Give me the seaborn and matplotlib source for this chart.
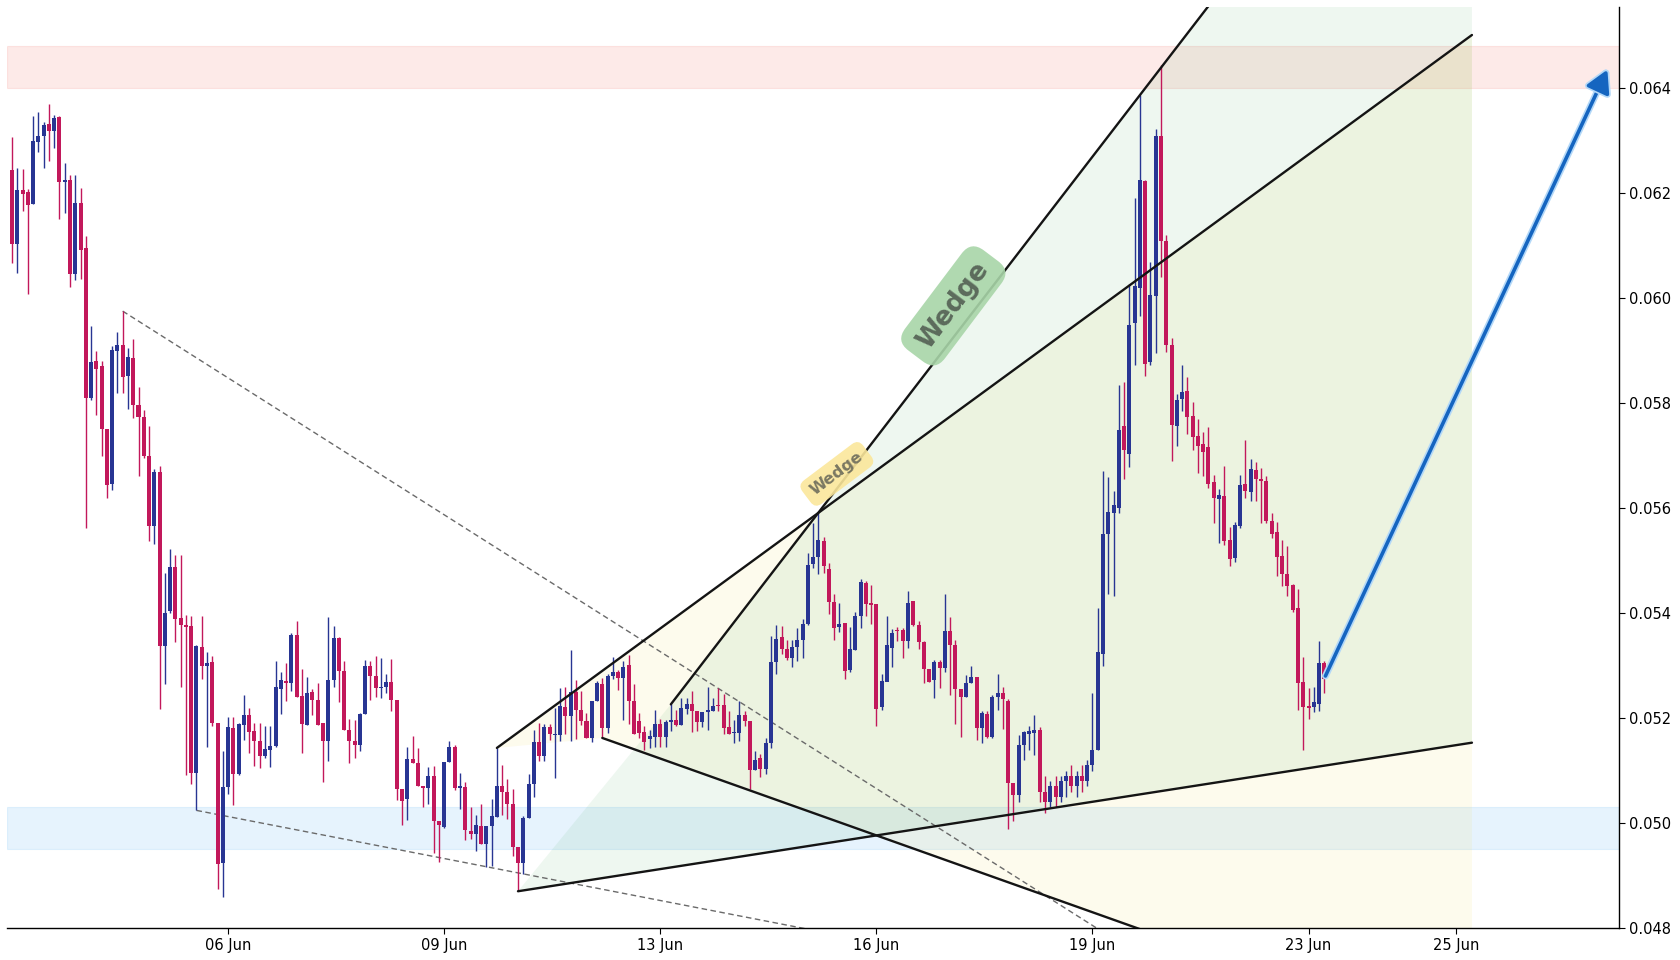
import matplotlib
matplotlib.use("Agg")
import matplotlib.pyplot as plt
import matplotlib.patheffects as pe
import numpy as np
import pandas as pd
import seaborn as sns

# ---------------- data (candles on an index-based x axis) ----------------
opens = [0.06243, 0.06103, 0.06205, 0.06201, 0.06180, 0.06297, 0.06309, 0.06331, 0.06318, 0.06344,
         0.06221, 0.06224, 0.06046, 0.06181, 0.06095, 0.05810, 0.05880, 0.05870, 0.05750, 0.05646,
         0.05899, 0.05910, 0.05852, 0.05885, 0.05797, 0.05773, 0.05700, 0.05566, 0.05668, 0.05337,
         0.05404, 0.05487, 0.05390, 0.05378, 0.05376, 0.05095, 0.05335, 0.05300, 0.05306, 0.05190,
         0.04924, 0.05069, 0.05181, 0.05094, 0.05187, 0.05205, 0.05175, 0.05157, 0.05128, 0.05139,
         0.05146, 0.05256, 0.05270, 0.05267, 0.05359, 0.05241, 0.05187, 0.05249, 0.05235, 0.05190,
         0.05156, 0.05272, 0.05352, 0.05289, 0.05178, 0.05156, 0.05148, 0.05207, 0.05300, 0.05280,
         0.05257, 0.05260, 0.05268, 0.05235, 0.05065, 0.05046, 0.05121, 0.05115, 0.05071, 0.05067,
         0.05090, 0.05004, 0.04992, 0.05116, 0.05144, 0.05067, 0.05068, 0.04984, 0.04979, 0.04994,
         0.04960, 0.04994, 0.05012, 0.05070, 0.05059, 0.05037, 0.04954, 0.04924, 0.05009, 0.05075,
         0.05155, 0.05127, 0.05183, 0.05167, 0.05167, 0.05221, 0.05204, 0.05250, 0.05215, 0.05195,
         0.05162, 0.05232, 0.05264, 0.05181, 0.05280, 0.05287, 0.05276, 0.05301, 0.05232, 0.05195,
         0.05174, 0.05160, 0.05164, 0.05188, 0.05164, 0.05193, 0.05196, 0.05186, 0.05218, 0.05226,
         0.05213, 0.05192, 0.05211, 0.05214, 0.05224, 0.05224, 0.05182, 0.05171, 0.05171, 0.05206,
         0.05195, 0.05101, 0.05123, 0.05102, 0.05152, 0.05306, 0.05354, 0.05332, 0.05314, 0.05336,
         0.05348, 0.05380, 0.05493, 0.05506, 0.05537, 0.05484, 0.05421, 0.05373, 0.05381, 0.05292,
         0.05330, 0.05395, 0.05458, 0.05419, 0.05418, 0.05221, 0.05269, 0.05334, 0.05367, 0.05367,
         0.05346, 0.05422, 0.05378, 0.05345, 0.05293, 0.05273, 0.05307, 0.05295, 0.05365, 0.05339,
         0.05256, 0.05240, 0.05267, 0.05278, 0.05181, 0.05208, 0.05164, 0.05240, 0.05247, 0.05232,
         0.05076, 0.05054, 0.05148, 0.05170, 0.05171, 0.05178, 0.05060, 0.05040, 0.05070, 0.05050,
         0.05080, 0.05090, 0.05070, 0.05090, 0.05080, 0.05110, 0.05140, 0.05322, 0.05550, 0.05590,
         0.05600, 0.05756, 0.05702, 0.05953, 0.06019, 0.06222, 0.05878, 0.06003, 0.06309, 0.06108,
         0.05911, 0.05757, 0.05808, 0.05822, 0.05775, 0.05737, 0.05721, 0.05716, 0.05649, 0.05617,
         0.05622, 0.05540, 0.05504, 0.05565, 0.05646, 0.05631, 0.05673, 0.05656, 0.05652, 0.05575,
         0.05554, 0.05508, 0.05475, 0.05453, 0.05409, 0.05268, 0.05222, 0.05221, 0.05227, 0.05304]
highs = [0.06306, 0.06247, 0.06245, 0.06208, 0.06346, 0.06354, 0.06335, 0.06369, 0.06348, 0.06346,
         0.06257, 0.06234, 0.06234, 0.06209, 0.06118, 0.05946, 0.05899, 0.05880, 0.05750, 0.05908,
         0.05935, 0.05975, 0.05904, 0.05922, 0.05830, 0.05786, 0.05756, 0.05674, 0.05680, 0.05476,
         0.05521, 0.05510, 0.05510, 0.05397, 0.05395, 0.05339, 0.05394, 0.05325, 0.05319, 0.05190,
         0.05138, 0.05202, 0.05202, 0.05190, 0.05244, 0.05219, 0.05190, 0.05190, 0.05184, 0.05184,
         0.05308, 0.05288, 0.05304, 0.05362, 0.05384, 0.05293, 0.05278, 0.05255, 0.05266, 0.05190,
         0.05392, 0.05375, 0.05355, 0.05309, 0.05198, 0.05196, 0.05210, 0.05311, 0.05308, 0.05319,
         0.05314, 0.05283, 0.05313, 0.05235, 0.05065, 0.05144, 0.05165, 0.05142, 0.05071, 0.05106,
         0.05108, 0.05004, 0.05117, 0.05156, 0.05149, 0.05095, 0.05079, 0.05030, 0.05016, 0.05036,
         0.04994, 0.05045, 0.05143, 0.05111, 0.05083, 0.05064, 0.04954, 0.05013, 0.05093, 0.05178,
         0.05191, 0.05188, 0.05188, 0.05220, 0.05257, 0.05260, 0.05330, 0.05273, 0.05252, 0.05210,
         0.05232, 0.05270, 0.05276, 0.05283, 0.05316, 0.05292, 0.05308, 0.05320, 0.05264, 0.05210,
         0.05184, 0.05178, 0.05216, 0.05198, 0.05197, 0.05226, 0.05215, 0.05239, 0.05239, 0.05251,
         0.05213, 0.05211, 0.05260, 0.05239, 0.05257, 0.05245, 0.05213, 0.05197, 0.05232, 0.05213,
         0.05195, 0.05138, 0.05132, 0.05162, 0.05357, 0.05377, 0.05375, 0.05348, 0.05348, 0.05371,
         0.05388, 0.05514, 0.05571, 0.05591, 0.05545, 0.05495, 0.05437, 0.05419, 0.05381, 0.05373,
         0.05402, 0.05464, 0.05461, 0.05454, 0.05418, 0.05283, 0.05395, 0.05370, 0.05373, 0.05371,
         0.05442, 0.05422, 0.05384, 0.05346, 0.05293, 0.05311, 0.05311, 0.05436, 0.05392, 0.05349,
         0.05256, 0.05282, 0.05299, 0.05278, 0.05214, 0.05213, 0.05244, 0.05283, 0.05260, 0.05237,
         0.05076, 0.05167, 0.05175, 0.05184, 0.05205, 0.05183, 0.05090, 0.05080, 0.05090, 0.05090,
         0.05100, 0.05110, 0.05100, 0.05110, 0.05120, 0.05248, 0.05410, 0.05671, 0.05659, 0.05632,
         0.05834, 0.05840, 0.06026, 0.06191, 0.06386, 0.06224, 0.06069, 0.06321, 0.06443, 0.06120,
         0.05924, 0.05817, 0.05872, 0.05849, 0.05801, 0.05770, 0.05745, 0.05754, 0.05662, 0.05636,
         0.05680, 0.05563, 0.05573, 0.05662, 0.05729, 0.05694, 0.05687, 0.05676, 0.05661, 0.05590,
         0.05573, 0.05539, 0.05527, 0.05456, 0.05446, 0.05316, 0.05257, 0.05259, 0.05346, 0.05308]
lows = [0.06067, 0.06048, 0.06165, 0.06008, 0.06180, 0.06278, 0.06248, 0.06261, 0.06286, 0.06151,
        0.06162, 0.06021, 0.06034, 0.06036, 0.05562, 0.05805, 0.05777, 0.05699, 0.05619, 0.05634,
        0.05819, 0.05819, 0.05789, 0.05772, 0.05661, 0.05695, 0.05537, 0.05532, 0.05217, 0.05265,
        0.05400, 0.05345, 0.05259, 0.05092, 0.05074, 0.05024, 0.05274, 0.05145, 0.05184, 0.04874,
        0.04860, 0.05055, 0.05034, 0.05092, 0.05158, 0.05133, 0.05108, 0.05105, 0.05123, 0.05107,
        0.05144, 0.05208, 0.05232, 0.05251, 0.05240, 0.05134, 0.05187, 0.05206, 0.05187, 0.05078,
        0.05118, 0.05259, 0.05231, 0.05178, 0.05115, 0.05124, 0.05137, 0.05207, 0.05234, 0.05240,
        0.05238, 0.05248, 0.05213, 0.05044, 0.04996, 0.05006, 0.05115, 0.05071, 0.05031, 0.05037,
        0.04943, 0.04925, 0.04990, 0.05116, 0.05062, 0.05026, 0.04967, 0.04969, 0.04946, 0.04960,
        0.04916, 0.04918, 0.05012, 0.05016, 0.05007, 0.04937, 0.04870, 0.04902, 0.05009, 0.05050,
        0.05118, 0.05118, 0.05158, 0.05085, 0.05156, 0.05169, 0.05156, 0.05160, 0.05186, 0.05162,
        0.05155, 0.05232, 0.05162, 0.05172, 0.05275, 0.05254, 0.05197, 0.05188, 0.05169, 0.05162,
        0.05140, 0.05142, 0.05144, 0.05144, 0.05144, 0.05175, 0.05185, 0.05186, 0.05207, 0.05173,
        0.05175, 0.05183, 0.05178, 0.05214, 0.05213, 0.05169, 0.05169, 0.05152, 0.05157, 0.05184,
        0.05064, 0.05101, 0.05087, 0.05093, 0.05142, 0.05283, 0.05321, 0.05311, 0.05298, 0.05309,
        0.05314, 0.05378, 0.05485, 0.05474, 0.05476, 0.05399, 0.05348, 0.05364, 0.05275, 0.05287,
        0.05330, 0.05372, 0.05395, 0.05380, 0.05185, 0.05216, 0.05270, 0.05298, 0.05346, 0.05314,
        0.05334, 0.05375, 0.05332, 0.05267, 0.05269, 0.05238, 0.05257, 0.05287, 0.05243, 0.05189,
        0.05163, 0.05240, 0.05267, 0.05158, 0.05152, 0.05162, 0.05162, 0.05216, 0.05180, 0.04988,
        0.05003, 0.05040, 0.05120, 0.05140, 0.05130, 0.05040, 0.05020, 0.05030, 0.05030, 0.05040,
        0.05050, 0.05060, 0.05050, 0.05060, 0.05070, 0.05100, 0.05139, 0.05299, 0.05436, 0.05433,
        0.05591, 0.05655, 0.05678, 0.05873, 0.05965, 0.05852, 0.05873, 0.05895, 0.06040, 0.05897,
        0.05689, 0.05718, 0.05784, 0.05741, 0.05710, 0.05667, 0.05661, 0.05638, 0.05572, 0.05534,
        0.05530, 0.05489, 0.05497, 0.05561, 0.05619, 0.05613, 0.05613, 0.05572, 0.05572, 0.05543,
        0.05470, 0.05451, 0.05432, 0.05402, 0.05216, 0.05140, 0.05198, 0.05212, 0.05213, 0.05248]
closes = [0.06103, 0.06205, 0.06198, 0.06177, 0.06299, 0.06308, 0.06329, 0.06318, 0.06342, 0.06221,
          0.06224, 0.06046, 0.06181, 0.06092, 0.05810, 0.05878, 0.05865, 0.05751, 0.05644, 0.05901,
          0.05910, 0.05850, 0.05887, 0.05796, 0.05774, 0.05699, 0.05566, 0.05668, 0.05337, 0.05400,
          0.05487, 0.05389, 0.05377, 0.05374, 0.05095, 0.05337, 0.05300, 0.05304, 0.05191, 0.04922,
          0.05068, 0.05183, 0.05094, 0.05188, 0.05205, 0.05174, 0.05157, 0.05128, 0.05141, 0.05147,
          0.05260, 0.05273, 0.05267, 0.05359, 0.05240, 0.05189, 0.05248, 0.05235, 0.05187, 0.05156,
          0.05272, 0.05352, 0.05289, 0.05178, 0.05156, 0.05148, 0.05207, 0.05300, 0.05280, 0.05257,
          0.05260, 0.05268, 0.05235, 0.05065, 0.05042, 0.05121, 0.05115, 0.05071, 0.05067, 0.05090,
          0.05004, 0.04996, 0.05116, 0.05144, 0.05066, 0.05070, 0.04986, 0.04979, 0.04997, 0.04960,
          0.04994, 0.05014, 0.05071, 0.05059, 0.05037, 0.04954, 0.04924, 0.05009, 0.05075, 0.05155,
          0.05127, 0.05183, 0.05169, 0.05170, 0.05223, 0.05204, 0.05250, 0.05215, 0.05195, 0.05162,
          0.05232, 0.05266, 0.05181, 0.05280, 0.05287, 0.05276, 0.05298, 0.05232, 0.05169, 0.05172,
          0.05155, 0.05165, 0.05188, 0.05164, 0.05193, 0.05196, 0.05186, 0.05220, 0.05226, 0.05213,
          0.05192, 0.05211, 0.05215, 0.05223, 0.05222, 0.05181, 0.05170, 0.05174, 0.05205, 0.05195,
          0.05101, 0.05120, 0.05102, 0.05152, 0.05306, 0.05351, 0.05332, 0.05314, 0.05336, 0.05348,
          0.05380, 0.05491, 0.05506, 0.05540, 0.05489, 0.05421, 0.05372, 0.05380, 0.05290, 0.05332,
          0.05395, 0.05459, 0.05418, 0.05416, 0.05217, 0.05270, 0.05339, 0.05361, 0.05365, 0.05346,
          0.05419, 0.05378, 0.05345, 0.05293, 0.05269, 0.05307, 0.05295, 0.05365, 0.05339, 0.05256,
          0.05240, 0.05267, 0.05278, 0.05181, 0.05210, 0.05164, 0.05240, 0.05247, 0.05236, 0.05076,
          0.05054, 0.05148, 0.05173, 0.05175, 0.05178, 0.05060, 0.05040, 0.05070, 0.05050, 0.05080,
          0.05090, 0.05070, 0.05090, 0.05080, 0.05110, 0.05140, 0.05325, 0.05551, 0.05592, 0.05605,
          0.05748, 0.05711, 0.05948, 0.06022, 0.06224, 0.05874, 0.06005, 0.06308, 0.06108, 0.05911,
          0.05759, 0.05805, 0.05821, 0.05773, 0.05735, 0.05718, 0.05706, 0.05646, 0.05619, 0.05624,
          0.05537, 0.05502, 0.05567, 0.05643, 0.05632, 0.05675, 0.05655, 0.05651, 0.05575, 0.05551,
          0.05506, 0.05474, 0.05451, 0.05405, 0.05267, 0.05221, 0.05219, 0.05230, 0.05304, 0.05275]

tick_positions = [41, 82, 123, 164, 205, 246, 274]
tick_labels = ["06 Jun", "09 Jun", "13 Jun", "16 Jun", "19 Jun", "23 Jun", "25 Jun"]
y_ticks = [0.048, 0.050, 0.052, 0.054, 0.056, 0.058, 0.060, 0.062, 0.064]

resistance_zone = [0.0640, 0.0648]
support_zone = [0.0495, 0.0503]

# trend lines: (index, price) anchor points
wedge_a_upper = [(92, 0.05143), (277, 0.06501)]
wedge_a_lower = [(112, 0.05162), (277, 0.04573)]
wedge_b_upper = [(125, 0.05226), (277, 0.07208)]
wedge_b_lower = [(96, 0.04870), (277, 0.05153)]
dash_upper = [(21, 0.05975), (277, 0.04347)]
dash_lower = [(35, 0.05024), (277, 0.04552)]
forecast_arrow = [(249.2, 0.0528), (302.7, 0.06435)]

label_big = (178.6, 0.05985)
label_small = (156.5, 0.05665)

# ---------------- figure ----------------
sns.set_theme(style="white")
plt.rcParams["font.family"] = ["DejaVu Sans"]

fig = plt.figure(figsize=(16.8, 9.6), dpi=100)
ax = fig.add_axes([7 / 1680, 32 / 960, 1612 / 1680, 921 / 960])
ax.set_facecolor("white")

# zones
ax.axhspan(resistance_zone[0], resistance_zone[1], facecolor="#f44336", alpha=0.11,
           edgecolor="#f44336", lw=0.8, zorder=0.5)
ax.axhspan(support_zone[0], support_zone[1], facecolor="#2196f3", alpha=0.11,
           edgecolor="#2196f3", lw=0.8, zorder=0.5)

# wedge fills
poly_a = [wedge_a_upper[0], wedge_a_upper[1], wedge_a_lower[1], wedge_a_lower[0]]
ax.fill([p[0] for p in poly_a], [p[1] for p in poly_a], color="#f0d850", alpha=0.10, lw=0, zorder=1)
poly_b = [wedge_b_lower[0], wedge_b_upper[0], wedge_b_upper[1], wedge_b_lower[1]]
ax.fill([p[0] for p in poly_b], [p[1] for p in poly_b], color="#2e9e4a", alpha=0.08, lw=0, zorder=1.1)

# dashed guide lines
dash_df = pd.DataFrame(
    [(x, y, "u") for x, y in dash_upper] + [(x, y, "l") for x, y in dash_lower],
    columns=["x", "y", "line"])
for name, g in dash_df.groupby("line"):
    sns.lineplot(data=g, x="x", y="y", ax=ax, color="#6a6a6a", lw=1.0,
                 linestyle=(0, (4, 2.5)), estimator=None, sort=False, zorder=2)

# candles
idx = np.arange(len(opens))
o = np.array(opens); h = np.array(highs); l = np.array(lows); c = np.array(closes)
up = c >= o
col_up, col_dn = "#283593", "#c2185b"
colors = np.where(up, col_up, col_dn)
ax.vlines(idx, l, h, colors=colors, lw=1.0, zorder=3)
body_bottom = np.minimum(o, c)
body_h = np.maximum(np.abs(c - o), 0.00003)
ax.bar(idx, body_h, bottom=body_bottom, width=0.76, color=colors, lw=0, zorder=3.2)

# wedge lines
line_df = pd.DataFrame(
    [(x, y, "a_up") for x, y in wedge_a_upper] + [(x, y, "a_lo") for x, y in wedge_a_lower] +
    [(x, y, "b_up") for x, y in wedge_b_upper] + [(x, y, "b_lo") for x, y in wedge_b_lower],
    columns=["x", "y", "line"])
for name, g in line_df.groupby("line"):
    sns.lineplot(data=g, x="x", y="y", ax=ax, color="#141414", lw=1.7,
                 estimator=None, sort=False, zorder=4)

# labels
ax.text(label_big[0], label_big[1], "Wedge", rotation=53, rotation_mode="anchor",
        ha="center", va="center", fontsize=19, fontweight="bold", color="#5c6b5c",
        bbox=dict(boxstyle="round,pad=0.45,rounding_size=0.6", fc="#a8d5a8", ec="none", alpha=0.9),
        zorder=5)
ax.text(label_small[0], label_small[1], "Wedge", rotation=37, rotation_mode="anchor",
        ha="center", va="center", fontsize=11.5, fontweight="bold", color="#7a7862",
        bbox=dict(boxstyle="round,pad=0.45,rounding_size=0.5", fc="#fbe79b", ec="none", alpha=0.9),
        zorder=5)

# forecast arrow
ann = ax.annotate("", xy=forecast_arrow[1], xytext=forecast_arrow[0],
                  arrowprops=dict(arrowstyle="-|>,head_length=0.9,head_width=0.5",
                                  color="#1565c0", lw=2.6, shrinkA=0, shrinkB=0,
                                  mutation_scale=15),
                  zorder=6)
ann.arrow_patch.set_path_effects([pe.Stroke(linewidth=5, foreground="#b3d8f8"), pe.Normal()])

# axes formatting
ax.set_xlim(-0.95, 304.9)
ax.set_ylim(0.048, 0.065543)
ax.set_xticks(tick_positions)
ax.set_xticklabels(tick_labels)
ax.set_yticks(y_ticks)
ax.set_yticklabels([f"{v:.3f}" for v in y_ticks])
ax.yaxis.tick_right()
ax.set_xlabel("")
ax.set_ylabel("")
for s in ["left", "top"]:
    ax.spines[s].set_visible(False)
for s in ["right", "bottom"]:
    ax.spines[s].set_visible(True)
    ax.spines[s].set_color("black")
    ax.spines[s].set_linewidth(1.0)
ax.tick_params(axis="both", which="major", length=4, width=0.8, color="black",
               labelsize=10.5, labelcolor="black", direction="out")
ax.tick_params(axis="y", right=True, left=False)
ax.tick_params(axis="x", bottom=True)
ax.grid(False)
if ax.get_legend():
    ax.get_legend().remove()

fig.savefig("out.png", dpi=100)
